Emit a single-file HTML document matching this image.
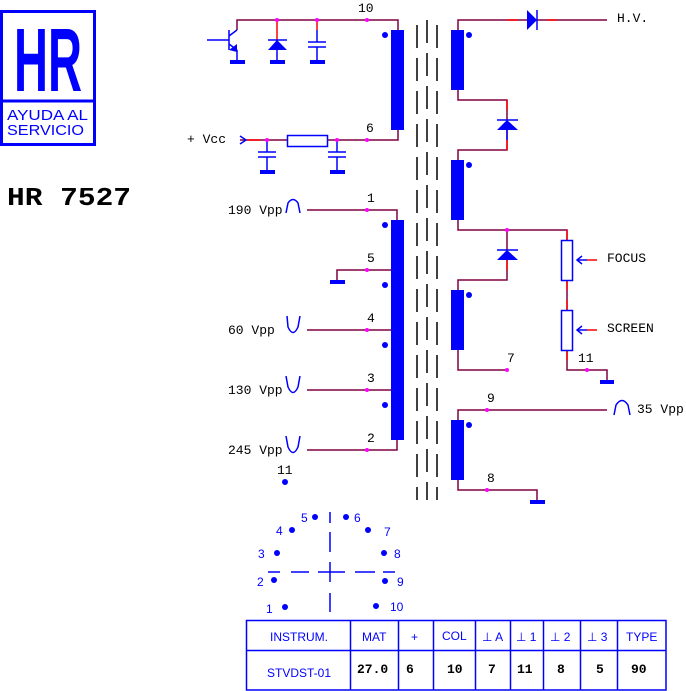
<!DOCTYPE html>
<html><head><meta charset="utf-8"><style>
html,body{margin:0;padding:0;background:#fff;}
svg{display:block;}
.m{font-family:"Liberation Mono",monospace;font-size:13px;fill:#000;}
.b{font-family:"Liberation Sans",sans-serif;font-size:12px;fill:#00f;}
.v{font-family:"Liberation Mono",monospace;font-size:13px;font-weight:bold;fill:#000;}
</style></head><body>
<svg width="686" height="691" viewBox="0 0 686 691" xmlns="http://www.w3.org/2000/svg">
<!-- Logo -->
<rect x="1.5" y="11.5" width="93" height="133" fill="none" stroke="#00f" stroke-width="3"/>
<line x1="1" y1="101" x2="95" y2="101" stroke="#00f" stroke-width="3"/>
<text x="48" y="91" text-anchor="middle" font-family="Liberation Sans,sans-serif" font-weight="bold" font-size="90" fill="#00f" textLength="68" lengthAdjust="spacingAndGlyphs">HR</text>
<text x="7" y="120" font-family="Liberation Sans,sans-serif" font-size="15" fill="#00f" textLength="81" lengthAdjust="spacingAndGlyphs">AYUDA AL</text>
<text x="7" y="135" font-family="Liberation Sans,sans-serif" font-size="15" fill="#00f" textLength="77" lengthAdjust="spacingAndGlyphs">SERVICIO</text>
<text x="7" y="205" font-family="Liberation Mono,monospace" font-weight="bold" font-size="26" fill="#000" textLength="124" lengthAdjust="spacingAndGlyphs">HR 7527</text>

<g stroke="#800040" stroke-width="1.5" fill="none">
<polyline points="237,30 237,20 398,20 398,30"/>
<polyline points="240,140 398,140 398,130"/>
<polyline points="307,210 397,210 397,220"/>
<polyline points="337,280 337,270 398,270"/>
<line x1="307" y1="330" x2="398" y2="330"/>
<line x1="307" y1="390" x2="398" y2="390"/>
<polyline points="307,450 397,450 397,440"/>
<polyline points="458,30 458,20 607,20"/>
<polyline points="458,90 458,100 507,100 507,120"/>
<polyline points="507,130 507,150 458,150 458,160"/>
<polyline points="458,220 458,230 567,230 567,240"/>
<polyline points="507,260 507,280 458,280 458,290"/>
<polyline points="458,350 458,370 507,370"/>
<line x1="567" y1="280" x2="567" y2="310"/>
<polyline points="567,350 567,370 607,370 607,380"/>
<polyline points="458,420 458,410 607,410"/>
<polyline points="458,480 458,490 537,490 537,500"/>
<line x1="507" y1="230" x2="507" y2="250"/>
</g>
<g stroke="#f00" stroke-width="1.5">
<line x1="277" y1="20" x2="277" y2="40"/>
<line x1="317" y1="20" x2="317" y2="30"/>
<line x1="247" y1="140" x2="260" y2="140"/>
<line x1="507" y1="100" x2="507" y2="110"/>
<line x1="507" y1="140" x2="507" y2="150"/>
<line x1="507" y1="260" x2="507" y2="270"/>
<line x1="507" y1="20" x2="518" y2="20"/>
<line x1="547" y1="20" x2="557" y2="20"/>
<line x1="567" y1="230" x2="567" y2="240"/>
<line x1="567" y1="280" x2="567" y2="290"/>
<line x1="567" y1="300" x2="567" y2="310"/>
<line x1="567" y1="350" x2="567" y2="360"/>
<line x1="587" y1="260" x2="597" y2="260"/>
<line x1="587" y1="330" x2="597" y2="330"/>
</g>
<g stroke="#00f" stroke-width="1.5" fill="none">
<line x1="207" y1="40" x2="229" y2="40"/>
<line x1="229" y1="30" x2="229" y2="50"/>
<line x1="229" y1="36" x2="237" y2="30"/>
<line x1="229" y1="44" x2="237" y2="50"/>
<line x1="237" y1="50" x2="237" y2="60"/>
<line x1="277" y1="40" x2="277" y2="60"/>
<line x1="317" y1="30" x2="317" y2="42"/>
<line x1="317" y1="47" x2="317" y2="60"/>
<line x1="308" y1="42" x2="326" y2="42"/>
<line x1="308" y1="47" x2="326" y2="47"/>
<line x1="267" y1="140" x2="267" y2="152"/>
<line x1="267" y1="157" x2="267" y2="170"/>
<line x1="258" y1="152" x2="276" y2="152"/>
<line x1="258" y1="157" x2="276" y2="157"/>
<line x1="337" y1="140" x2="337" y2="152"/>
<line x1="337" y1="157" x2="337" y2="170"/>
<line x1="328" y1="152" x2="346" y2="152"/>
<line x1="328" y1="157" x2="346" y2="157"/>
<line x1="268" y1="40" x2="287" y2="40"/>
<polyline points="240,136 246,140 240,144"/>
<rect x="287.5" y="135.5" width="40" height="11" fill="#fff"/>
<line x1="537" y1="10" x2="537" y2="30"/>
<line x1="497" y1="120" x2="518" y2="120"/>
<line x1="497" y1="250" x2="518" y2="250"/>
<line x1="507" y1="130" x2="507" y2="140"/>
<rect x="561.5" y="240.5" width="11" height="40" fill="#fff"/>
<rect x="561.5" y="310.5" width="11" height="40" fill="#fff"/>
<line x1="577" y1="260" x2="587" y2="260"/>
<polyline points="582,256 577,260 582,264"/>
<line x1="577" y1="330" x2="587" y2="330"/>
<polyline points="582,326 577,330 582,334"/>
<path d="M286,213 L288,203 Q293,196 298,203 L300,213"/>
<path d="M614,415 L616,405 Q622,396 628,405 L630,415"/>
<path d="M287,316 L288,327 Q293,338 298,327 L300,316"/>
<path d="M286,376 L288,387 Q293,398 298,387 L300,376"/>
<path d="M286,436 L288,447 Q293,458 298,447 L300,436"/>
</g>
<g fill="#00f">
<polygon points="229,50 237,44 237,52"/>
<polygon points="277,40 268,50 287,50"/>
<polygon points="527,10 527,30 537,20"/>
<polygon points="507,120 497,130 518,130"/>
<polygon points="507,250 497,260 518,260"/>
<rect x="230" y="60" width="15" height="4"/>
<rect x="270" y="60" width="15" height="4"/>
<rect x="310" y="60" width="15" height="4"/>
<rect x="260" y="170" width="15" height="4"/>
<rect x="330" y="170" width="15" height="4"/>
<rect x="330" y="280" width="15" height="4"/>
<rect x="600" y="380" width="14" height="4"/>
<rect x="530" y="500" width="15" height="4"/>
<rect x="391" y="30" width="13" height="100"/>
<rect x="391" y="220" width="13" height="220"/>
<rect x="451" y="30" width="13" height="60"/>
<rect x="451" y="160" width="13" height="60"/>
<rect x="451" y="290" width="13" height="60"/>
<rect x="451" y="420" width="13" height="60"/>
<circle cx="385" cy="35" r="3"/>
<circle cx="385" cy="225" r="3"/>
<circle cx="385" cy="285" r="3"/>
<circle cx="385" cy="345" r="3"/>
<circle cx="385" cy="405" r="3"/>
<circle cx="469" cy="35" r="3"/>
<circle cx="469" cy="165" r="3"/>
<circle cx="469" cy="295" r="3"/>
<circle cx="469" cy="425" r="3"/>
<circle cx="285" cy="482" r="3"/>
<circle cx="315" cy="517" r="3"/><circle cx="346" cy="517" r="3"/>
<circle cx="292" cy="530" r="3"/><circle cx="368" cy="530" r="3"/>
<circle cx="277" cy="553" r="3"/><circle cx="384" cy="553" r="3"/>
<circle cx="274" cy="580" r="3"/><circle cx="385" cy="581" r="3"/>
<circle cx="285" cy="607" r="3"/><circle cx="376" cy="606" r="3"/>
</g>
<g fill="#f0f">
<circle cx="277" cy="20" r="2"/><circle cx="317" cy="20" r="2"/><circle cx="367" cy="20" r="2"/>
<circle cx="267" cy="140" r="2"/><circle cx="337" cy="140" r="2"/><circle cx="367" cy="140" r="2"/>
<circle cx="367" cy="210" r="2"/><circle cx="367" cy="270" r="2"/><circle cx="367" cy="330" r="2"/>
<circle cx="367" cy="390" r="2"/><circle cx="367" cy="450" r="2"/>
<circle cx="507" cy="230" r="2"/><circle cx="507" cy="370" r="2"/><circle cx="587" cy="370" r="2"/>
<circle cx="487" cy="410" r="2"/><circle cx="487" cy="490" r="2"/>
</g>
<g stroke="#000" stroke-width="1.5" stroke-dasharray="23,10">
<line x1="417" y1="25" x2="417" y2="500"/>
<line x1="427" y1="20" x2="427" y2="500"/>
<line x1="437" y1="25" x2="437" y2="500"/>
</g>
<g stroke="#00f" stroke-width="1.5">
<line x1="330" y1="512" x2="330" y2="523"/>
<line x1="330" y1="532" x2="330" y2="552"/>
<line x1="330" y1="562" x2="330" y2="582"/>
<line x1="330" y1="593" x2="330" y2="612"/>
<line x1="268" y1="572" x2="280" y2="572"/>
<line x1="291" y1="572" x2="309" y2="572"/>
<line x1="318" y1="572" x2="345" y2="572"/>
<line x1="355" y1="572" x2="375" y2="572"/>
<line x1="383" y1="572" x2="395" y2="572"/>
</g>
<text class="m" x="358" y="12">10</text>
<text class="m" x="366" y="132">6</text>
<text class="m" x="187" y="143">+ Vcc</text>
<text class="m" x="367" y="202">1</text>
<text class="m" x="367" y="262">5</text>
<text class="m" x="367" y="322">4</text>
<text class="m" x="367" y="382">3</text>
<text class="m" x="367" y="442">2</text>
<text class="m" x="228" y="214">190 Vpp</text>
<text class="m" x="228" y="334">60 Vpp</text>
<text class="m" x="228" y="394">130 Vpp</text>
<text class="m" x="228" y="454">245 Vpp</text>
<text class="m" x="277" y="474">11</text>
<text class="m" x="617" y="22">H.V.</text>
<text class="m" x="607" y="262">FOCUS</text>
<text class="m" x="607" y="332">SCREEN</text>
<text class="m" x="507" y="362">7</text>
<text class="m" x="578" y="362">11</text>
<text class="m" x="487" y="402">9</text>
<text class="m" x="487" y="482">8</text>
<text class="m" x="637" y="413">35 Vpp</text>
<g class="b" font-size="11">
<text x="301" y="522">5</text><text x="354" y="522">6</text>
<text x="276" y="535">4</text><text x="384" y="536">7</text>
<text x="258" y="558">3</text><text x="394" y="558">8</text>
<text x="257" y="586">2</text><text x="397" y="586">9</text>
<text x="266" y="613">1</text><text x="390" y="611">10</text>
</g>
<g stroke="#00f" stroke-width="1.5" fill="none">
<rect x="246.5" y="620.5" width="419.5" height="69.5"/>
<line x1="246" y1="650.5" x2="666" y2="650.5"/>
<line x1="350.5" y1="620" x2="350.5" y2="690"/>
<line x1="398.5" y1="620" x2="398.5" y2="690"/>
<line x1="433.5" y1="620" x2="433.5" y2="690"/>
<line x1="475.5" y1="620" x2="475.5" y2="690"/>
<line x1="510.5" y1="620" x2="510.5" y2="690"/>
<line x1="543.5" y1="620" x2="543.5" y2="690"/>
<line x1="580.5" y1="620" x2="580.5" y2="690"/>
<line x1="617.5" y1="620" x2="617.5" y2="690"/>
</g>
<g class="b">
<text x="270" y="641">INSTRUM.</text>
<text x="362" y="641">MAT</text>
<text x="411" y="641">+</text>
<text x="442" y="640">COL</text>
<text x="482" y="641">⊥ A</text>
<text x="516" y="641">⊥ 1</text>
<text x="550" y="641">⊥ 2</text>
<text x="587" y="641">⊥ 3</text>
<text x="626" y="641">TYPE</text>
<text x="267" y="677">STVDST-01</text>
</g>
<g class="v">
<text x="357" y="673">27.0</text>
<text x="406" y="673">6</text>
<text x="447" y="673">10</text>
<text x="488" y="673">7</text>
<text x="517" y="673">11</text>
<text x="557" y="673">8</text>
<text x="596" y="673">5</text>
<text x="631" y="673">90</text>
</g>
</svg>
</body></html>
